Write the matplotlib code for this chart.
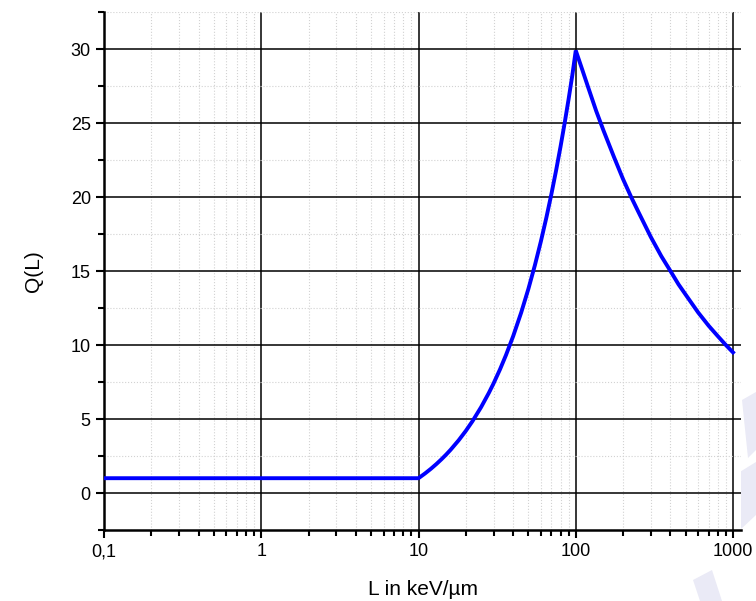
import numpy as np
import matplotlib.pyplot as plt
from matplotlib.ticker import FixedLocator, LogLocator, NullFormatter, MultipleLocator
from matplotlib.patches import Polygon

plt.rcParams['font.family'] = ['Liberation Sans', 'DejaVu Sans']

# Q(L) Werte
L_flat = [0.1, 1, 10]
Q_flat = [1.0, 1.0, 1.0]

L_rise = [10, 11, 12, 13, 14, 15, 16, 18, 20, 22, 25, 28, 30, 33, 36, 40, 45,
          50, 55, 60, 65, 70, 75, 80, 85, 90, 95, 100]
Q_rise = [1.0, 1.32, 1.64, 1.96, 2.28, 2.6, 2.92, 3.56, 4.2, 4.84, 5.8, 6.76,
          7.4, 8.36, 9.32, 10.6, 12.2, 13.8, 15.4, 17.0, 18.6, 20.2, 21.8,
          23.4, 25.0, 26.6, 28.2, 29.9]

L_fall = [100, 110, 120, 135, 150, 175, 200, 225, 250, 300, 350, 400, 450,
          500, 600, 700, 800, 900, 1000]
Q_fall = [29.9, 28.6, 27.4, 25.8, 24.5, 22.7, 21.2, 20.0, 19.0, 17.3, 16.0,
          15.0, 14.1, 13.4, 12.2, 11.3, 10.6, 10.0, 9.5]

x_ticks = [0.1, 1, 10, 100, 1000]
x_labels = ['0,1', '1', '10', '100', '1000']
y_ticks = [0, 5, 10, 15, 20, 25, 30]

fig = plt.figure(figsize=(7.56, 6.01), dpi=100)
ax = fig.add_axes([104 / 756, 71 / 601, (741 - 104) / 756, (530 - 12) / 601])

L = L_flat + L_rise[1:] + L_fall[1:]
Q = Q_flat + Q_rise[1:] + Q_fall[1:]
ax.plot(L, Q, color='#0000ff', lw=2.8, solid_joinstyle='miter', zorder=5)

ax.set_xscale('log')
ax.set_xlim(0.1, 1124)
ax.set_ylim(-2.5, 32.5)

ax.xaxis.set_major_locator(FixedLocator(x_ticks))
ax.set_xticklabels(x_labels)
ax.xaxis.set_minor_locator(LogLocator(base=10, subs=np.arange(2, 10)))
ax.xaxis.set_minor_formatter(NullFormatter())
ax.yaxis.set_major_locator(FixedLocator(y_ticks))
ax.yaxis.set_minor_locator(MultipleLocator(2.5))

ax.grid(which='major', color='black', lw=1.1, zorder=1)
ax.grid(which='minor', color='#d2d2d2', lw=0.8, ls=':', zorder=0)

for s in ['top', 'right']:
    ax.spines[s].set_visible(False)
for s in ['left', 'bottom']:
    ax.spines[s].set_linewidth(1.8)

ax.tick_params(which='major', direction='out', length=6, width=1.5, labelsize=13)
ax.tick_params(which='minor', direction='out', length=4, width=1.5)

ax.set_xlabel('L in keV/\u00b5m', fontsize=15, labelpad=14)
ax.set_ylabel('Q(L)', fontsize=15, labelpad=20)

# blasses Wasserzeichen rechts unten
for pts in [[(742, 400), (756, 392), (756, 450), (748, 458)],
            [(730, 478), (756, 462), (756, 515), (740, 530)],
            [(693, 580), (712, 570), (722, 601), (700, 601)]]:
    fig_pts = [(x / 756, 1 - y / 601) for x, y in pts]
    fig.patches.append(Polygon(fig_pts, closed=True, transform=fig.transFigure,
                               color='#dcdcf0', alpha=0.6, lw=0, zorder=-1))

fig.savefig('out.png', dpi=100)
